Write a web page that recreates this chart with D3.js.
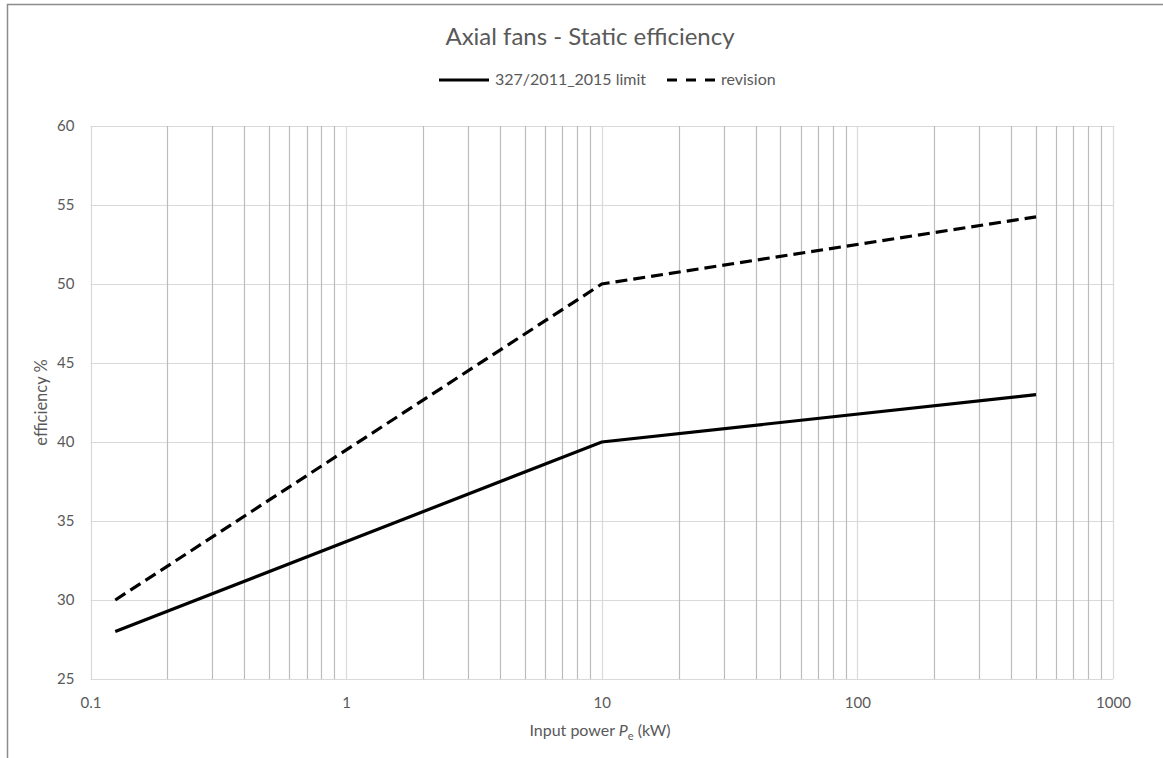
<!DOCTYPE html>
<html>
<head>
<meta charset="utf-8">
<script src="https://cdn.jsdelivr.net/npm/d3@7"></script>
<style>
  body { margin: 0; background: #fff; }
  svg { display: block; font-family: Lato, "Open Sans", sans-serif; }
</style>
</head>
<body>
<svg width="1163" height="758"></svg>
<script>
// input power, kW
const powerKW = [0.125, 10, 500];
// efficiency %, 327/2011 limit (2015)
const limit2015 = [28, 40, 43];
// efficiency %, revision
const revision = [30, 50, 54.25];

const xTicks = [0.1, 1, 10, 100, 1000];
const yTicks = [25, 30, 35, 40, 45, 50, 55, 60];

const seriesNames = ["327/2011_2015 limit", "revision"];

const svg = d3.select("svg");
const textColor = "#595959";

// plot area
const area = { left: 90.5, right: 1113, top: 126, bottom: 679 };

const scX = d3.scaleLog().domain([0.1, 1000]).range([area.left, area.right]);
const scY = d3.scaleLinear().domain([25, 60]).range([area.bottom, area.top]);

// chart border (top and left only visible)
svg.append("path")
    .attr("d", "M7.5,758 V4.5 H1163")
    .attr("fill", "none")
    .attr("stroke", "#8c8c8c")
    .attr("stroke-width", 1.5);

// horizontal gridlines
svg.append("g")
    .selectAll("line")
    .data(yTicks)
    .enter()
    .append("line")
    .attr("x1", area.left)
    .attr("x2", area.right)
    .attr("y1", d => Math.round(scY(d)) + 0.5)
    .attr("y2", d => Math.round(scY(d)) + 0.5)
    .attr("stroke", "#d9d9d9")
    .attr("stroke-width", 1);

// minor vertical gridlines (2..9 in every decade)
let minor = [];
for (let dec of [0.1, 1, 10, 100]) {
    for (let k = 2; k <= 9; k++) minor.push(dec * k);
}
svg.append("g")
    .selectAll("line")
    .data(minor)
    .enter()
    .append("line")
    .attr("x1", d => Math.round(scX(d)) + 0.5)
    .attr("x2", d => Math.round(scX(d)) + 0.5)
    .attr("y1", area.top)
    .attr("y2", area.bottom)
    .attr("stroke", "#bcbcbc")
    .attr("stroke-width", 1.2);

// major vertical gridlines (decades)
svg.append("g")
    .selectAll("line")
    .data(xTicks)
    .enter()
    .append("line")
    .attr("x1", d => Math.round(scX(d)) + 0.5)
    .attr("x2", d => Math.round(scX(d)) + 0.5)
    .attr("y1", area.top)
    .attr("y2", area.bottom)
    .attr("stroke", "#d9d9d9")
    .attr("stroke-width", 1.2);

// axes (labels only)
let axisX = svg.append("g")
    .attr("transform", `translate(0, ${area.bottom})`)
    .call(d3.axisBottom(scX).tickValues(xTicks).tickFormat(d => String(d)).tickSize(0).tickPadding(18));
axisX.select(".domain").remove();
axisX.selectAll("text")
    .style("font-family", "Lato, sans-serif")
    .style("font-size", "15px")
    .attr("fill", textColor);

let axisY = svg.append("g")
    .attr("transform", `translate(${area.left}, 0)`)
    .call(d3.axisLeft(scY).tickValues(yTicks).tickSize(0).tickPadding(16));
axisY.select(".domain").remove();
axisY.selectAll("text")
    .style("font-family", "Lato, sans-serif")
    .style("font-size", "15px")
    .attr("fill", textColor);

// lines
const lineGen = d3.line()
    .x(d => scX(d[0]))
    .y(d => scY(d[1]));

const solidData = powerKW.map((p, i) => [p, limit2015[i]]);
const dashData = powerKW.map((p, i) => [p, revision[i]]);

svg.append("path")
    .datum(solidData)
    .attr("d", lineGen)
    .attr("fill", "none")
    .attr("stroke", "#000")
    .attr("stroke-width", 3.2);

svg.append("path")
    .datum(dashData)
    .attr("d", lineGen)
    .attr("fill", "none")
    .attr("stroke", "#000")
    .attr("stroke-width", 3.2)
    .attr("stroke-dasharray", "12,6");

// title
svg.append("text")
    .attr("x", 590)
    .attr("y", 45)
    .attr("text-anchor", "middle")
    .attr("fill", textColor)
    .style("font-size", "24px")
    .text("Axial fans - Static efficiency");

// legend
const legend = svg.append("g");
legend.append("line")
    .attr("x1", 439).attr("x2", 489).attr("y1", 80).attr("y2", 80)
    .attr("stroke", "#000").attr("stroke-width", 3);
legend.append("text")
    .attr("x", 495).attr("y", 85)
    .attr("fill", textColor)
    .style("font-size", "16px")
    .text(seriesNames[0]);
legend.append("line")
    .attr("x1", 667).attr("x2", 716).attr("y1", 80).attr("y2", 80)
    .attr("stroke", "#000").attr("stroke-width", 3)
    .attr("stroke-dasharray", "10,9");
legend.append("text")
    .attr("x", 721).attr("y", 85)
    .attr("fill", textColor)
    .style("font-size", "16px")
    .text(seriesNames[1]);

// axis titles
let xt = svg.append("text")
    .attr("x", 600)
    .attr("y", 736)
    .attr("text-anchor", "middle")
    .attr("fill", textColor)
    .style("font-size", "16px");
xt.append("tspan").text("Input power ");
xt.append("tspan").style("font-style", "italic").text("P");
xt.append("tspan").attr("dy", 4).style("font-size", "11px").text("e");
xt.append("tspan").attr("dy", -4).text(" (kW)");

svg.append("text")
    .attr("transform", `translate(47, ${(area.top + area.bottom) / 2}) rotate(-90)`)
    .attr("text-anchor", "middle")
    .attr("fill", textColor)
    .style("font-size", "16.5px")
    .text("efficiency %");
</script>
</body>
</html>
